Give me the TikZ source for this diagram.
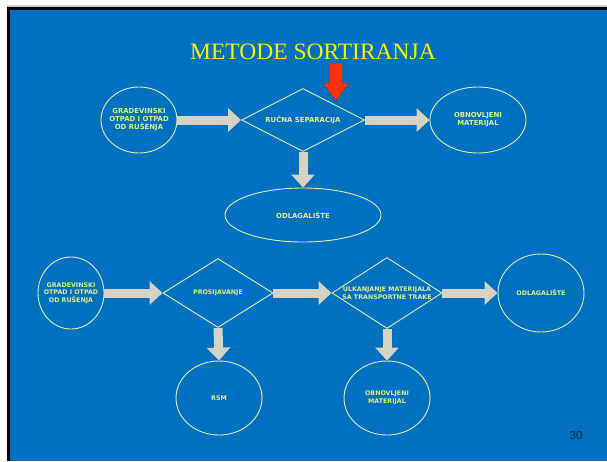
\documentclass[tikz,border=0pt]{standalone}
\usepackage{fontspec}
\usepackage{tikz}
\usetikzlibrary{shapes.geometric,arrows.meta}
\newfontfamily\lblfont{DejaVu Sans}
\newfontfamily\titlefont{Liberation Serif}
\newfontfamily\pagefont{Liberation Sans}
\definecolor{slide}{RGB}{0,112,192}
\definecolor{rim}{RGB}{226,240,170}
\definecolor{lblgreen}{RGB}{228,240,140}
\definecolor{flowgrey}{RGB}{214,210,198}
\definecolor{marker}{RGB}{255,51,0}

\begin{document}
\begin{tikzpicture}[x=1pt,y=-1pt,
  bubble/.style={ellipse,draw=rim,line width=0.9pt,inner sep=0pt},
  rhomb/.style={diamond,draw=rim,line width=0.9pt,inner sep=0pt},
  flow/.style={draw=flowgrey,line width=9pt,-{Triangle[length=13pt,width=23pt]}},
  lbl/.style={text=lblgreen,align=center,font=\lblfont\bfseries\fontsize{6.9}{8}\selectfont},
  lbs/.style={text=lblgreen,align=center,font=\lblfont\bfseries\fontsize{6.3}{7.5}\selectfont}]
\useasboundingbox (0,0) rectangle (607,461);
% slide frame
\fill[white] (0,0) rectangle (607,461);
\fill[black!20] (7,5) rectangle (607,7);
\fill[black] (7,7) rectangle (607,461);
\fill[slide] (10,10) rectangle (607,461);
\node[text=yellow,font=\titlefont\fontsize{23.5}{26}\selectfont] (title) at (313,52) {METODE SORTIRANJA};
\draw[fill=marker,draw=black!70,line width=0.5pt] (329,63) -- (342,63) -- (342,83) -- (349,83)
  -- (336,101) -- (323,83) -- (329,83) -- cycle;

% upper scheme
\node[bubble,minimum width=76,minimum height=66,label={[lbl]center:GRADEVINSKI\\OTPAD I OTPAD\\OD RUŠENJA}] (c1) at (139,120) {};
\node[rhomb,minimum width=123,minimum height=63,label={[lbl]center:RUČNA SEPARACIJA}] (d1) at (303,120) {};
\node[bubble,minimum width=96,minimum height=66,label={[lbl]center:OBNOVLJENI\\MATERIJAL}] (e1) at (478,120) {};
\node[bubble,minimum width=156,minimum height=54,label={[lbl]center:ODLAGALIŠTE}] (e2) at (303,215) {};
\draw[flow] (c1.east) -- (d1.west);
\draw[flow] (d1.east) -- (e1.west);
\draw[flow] (d1.south) -- (e2.north);

% lower scheme
\node[bubble,minimum width=66,minimum height=72,label={[lbs]center:GRADEVINSKI\\OTPAD I OTPAD\\OD RUŠENJA}] (c2) at (71,293) {};
\node[rhomb,minimum width=110,minimum height=69,label={[lbs]center:PROSIJAVANJE}] (d2) at (218,293) {};
\node[rhomb,minimum width=110,minimum height=71,label={[lbs]center:ULKANJANJE MATERIJALA\\SA TRANSPORTNE TRAKE}] (d3) at (387,293) {};
\node[bubble,minimum width=86,minimum height=78,label={[lbs]center:ODLAGALIŠTE}] (e3) at (541,293) {};
\node[bubble,minimum width=86,minimum height=74,label={[lbs]center:RSM}] (e4) at (219,398) {};
\node[bubble,minimum width=86,minimum height=74,label={[lbs]center:OBNOVLJENI\\MATERIJAL}] (e5) at (387,398) {};
\draw[flow] (c2.east) -- (d2.west);
\draw[flow] (d2.east) -- (d3.west);
\draw[flow] (d3.east) -- (e3.west);
\draw[flow] (d2.south) -- (e4.north);
\draw[flow] (d3.south) -- (e5.north);

\node[text=black!85,font=\pagefont\fontsize{11.5}{13}\selectfont] (page) at (576,436) {30};
\end{tikzpicture}
\end{document}
